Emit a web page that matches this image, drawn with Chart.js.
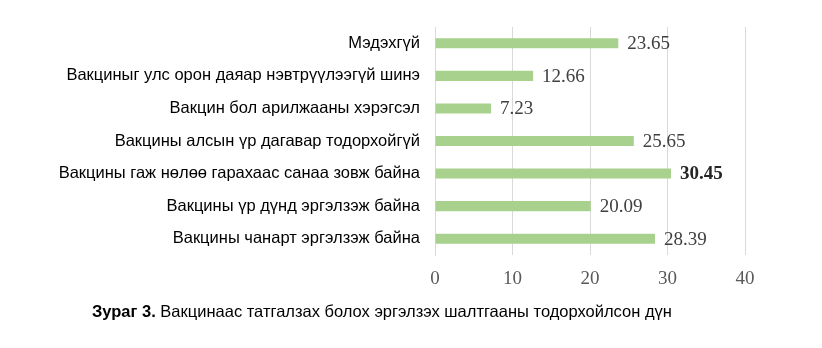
<!DOCTYPE html>
<html>
<head>
<meta charset="utf-8">
<script src="https://cdn.jsdelivr.net/npm/chart.js@4"></script>
<style>
  body { margin: 0; background: #fff; }
  #wrap { position: relative; width: 822px; height: 348px; }
  #caption {
    position: absolute; left: 92px; top: 302px;
    font-family: "Liberation Sans", Arial, sans-serif; font-size: 16.5px; color: #000;
    white-space: nowrap;
  }
</style>
</head>
<body>
<div id="wrap">
  <canvas id="reason-chart" width="822" height="348"></canvas>
  <div id="caption"><b>Зураг 3.</b> Вакцинаас татгалзах болох эргэлзэх шалтгааны тодорхойлсон дүн</div>
</div>
<script>
var categories = [
  "Мэдэхгүй",
  "Вакциныг улс орон даяар нэвтрүүлээгүй шинэ",
  "Вакцин бол арилжааны хэрэгсэл",
  "Вакцины алсын үр дагавар тодорхойгүй",
  "Вакцины гаж нөлөө гарахаас санаа зовж байна",
  "Вакцины үр дүнд эргэлзэж байна",
  "Вакцины чанарт эргэлзэж байна"
];
var values = [23.65, 12.66, 7.23, 25.65, 30.45, 20.09, 28.39];
var tickValues = [0, 10, 20, 30, 40];

// value labels drawn next to each bar end
var valueLabels = {
  id: 'valueLabels',
  afterDatasetsDraw: function(chart) {
    var ctx = chart.ctx;
    var meta = chart.getDatasetMeta(0);
    var maxVal = Math.max.apply(null, values);
    ctx.save();
    ctx.textBaseline = 'middle';
    ctx.textAlign = 'left';
    meta.data.forEach(function(bar, i) {
      var bold = values[i] === maxVal;
      ctx.font = (bold ? 'bold ' : '') + '19px "Liberation Serif", "Times New Roman", serif';
      ctx.fillStyle = bold ? '#262626' : '#404040';
      ctx.fillText(values[i].toFixed(2), bar.x + 9, bar.y + 1);
    });
    ctx.restore();
  }
};

var ctx = document.getElementById('reason-chart').getContext('2d');
var chart = new Chart(ctx, {
  type: 'bar',
  data: {
    labels: categories,
    datasets: [{
      data: values,
      backgroundColor: '#a9d18e',
      borderWidth: 0,
      barPercentage: 0.62,
      categoryPercentage: 0.5
    }]
  },
  options: {
    indexAxis: 'y',
    responsive: false,
    animation: false,
    layout: { padding: { left: 0, right: 77, top: 27, bottom: 0 } },
    plugins: { legend: { display: false }, tooltip: { enabled: false } },
    scales: {
      x: {
        min: 0,
        max: 40,
        afterBuildTicks: function(scale) {
          scale.ticks = tickValues.map(function(v) { return { value: v }; });
        },
        afterFit: function(scale) { scale.height = 93; },
        grid: { color: '#d9d9d9', drawTicks: false },
        border: { display: false },
        ticks: {
          padding: 13,
          color: '#595959',
          font: { family: '"Liberation Serif", "Times New Roman", serif', size: 19 }
        }
      },
      y: {
        afterFit: function(scale) { scale.width = 435; },
        grid: { display: false, drawTicks: false },
        border: { display: true, color: '#d9d9d9' },
        ticks: {
          padding: 15,
          color: '#000',
          font: { family: '"Liberation Sans", Arial, sans-serif', size: 16.5 }
        }
      }
    }
  },
  plugins: [valueLabels]
});
</script>
</body>
</html>
